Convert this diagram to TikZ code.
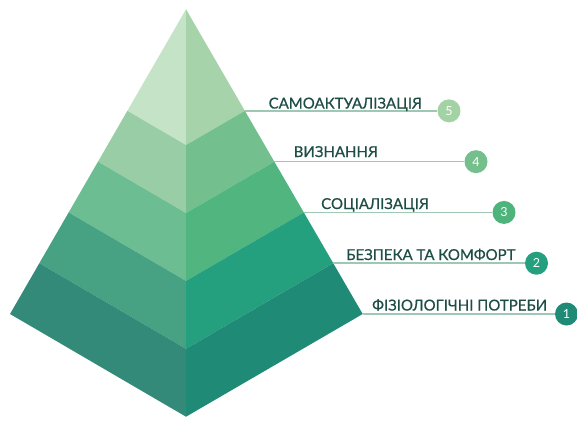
\documentclass[tikz,border=0pt]{standalone}
\usepackage{fontspec}
\setmainfont{Lato}
\newfontfamily\lblfont[FakeBold=0.6]{Lato}
\usetikzlibrary{calc}
\definecolor{txt}{HTML}{1D4D45}
\definecolor{ln}{HTML}{9EC8B4}
\definecolor{Lf5}{HTML}{C5E3C6}\definecolor{Rf5}{HTML}{A6D3A9}
\definecolor{Lf4}{HTML}{98CDA5}\definecolor{Rf4}{HTML}{74BF8E}
\definecolor{Lf3}{HTML}{6DBD93}\definecolor{Rf3}{HTML}{50B57F}
\definecolor{Lf2}{HTML}{46A283}\definecolor{Rf2}{HTML}{25A07E}
\definecolor{Lf1}{HTML}{348A78}\definecolor{Rf1}{HTML}{1F8A76}
\definecolor{C5}{HTML}{A3D2A5}\definecolor{C4}{HTML}{74BF8C}
\definecolor{C3}{HTML}{4FB47C}\definecolor{C2}{HTML}{25A07E}
\definecolor{C1}{HTML}{1F8A76}
\tikzset{
  num/.style={circle, minimum size=23pt, inner sep=0pt, text=white, font=\fontsize{12.5}{12.5}\selectfont},
  lbl/.style={anchor=base west, inner sep=0pt, text=txt, font=\lblfont\fontsize{15}{15}\selectfont},
  conn/.style={draw=ln, line width=1.5pt}
}
\begin{document}
\begin{tikzpicture}[x=1pt,y=-1pt]
\useasboundingbox (0,0) rectangle (577,420);
\coordinate (A) at (186,9.3);
\coordinate (L) at (10,314);
\coordinate (R) at (362.7,314);
\coordinate (B) at (186,416.7);
\foreach \n/\f in {a/0.3333,b/0.5,c/0.6667,d/0.8333,e/1}{
  \coordinate (L\n) at ($(A)!\f!(L)$);
  \coordinate (R\n) at ($(A)!\f!(R)$);
  \coordinate (B\n) at ($(A)!\f!(B)$);
}
\fill[Lf5] (A) -- (La) -- (Ba) -- cycle;
\fill[Rf5] (A) -- (Ra) -- (Ba) -- cycle;
\fill[Lf4] (La) -- (Lb) -- (Bb) -- (Ba) -- cycle;
\fill[Rf4] (Ra) -- (Rb) -- (Bb) -- (Ba) -- cycle;
\fill[Lf3] (Lb) -- (Lc) -- (Bc) -- (Bb) -- cycle;
\fill[Rf3] (Rb) -- (Rc) -- (Bc) -- (Bb) -- cycle;
\fill[Lf2] (Lc) -- (Ld) -- (Bd) -- (Bc) -- cycle;
\fill[Rf2] (Rc) -- (Rd) -- (Bd) -- (Bc) -- cycle;
\fill[Lf1] (Ld) -- (Le) -- (Be) -- (Bd) -- cycle;
\fill[Rf1] (Rd) -- (Re) -- (Be) -- (Bd) -- cycle;
% circle columns
\coordinate (x5) at (449,0);
\coordinate (x4) at (476,0);
\coordinate (x3) at (504,0);
\coordinate (x2) at (536.5,0);
\coordinate (x1) at (566.5,0);
\node[num, fill=C5] (n5) at (Ra -| x5) {5};
\node[num, fill=C4] (n4) at (Rb -| x4) {4};
\node[num, fill=C3] (n3) at (Rc -| x3) {3};
\node[num, fill=C2] (n2) at (Rd -| x2) {2};
\node[num, fill=C1] (n1) at (Re -| x1) {1};
\draw[conn] (Ra) -- (n5.west);
\draw[conn] (Rb) -- (n4.west);
\draw[conn] (Rc) -- (n3.west);
\draw[conn] (Rd) -- (n2.west);
\draw[conn] (Re) -- (n1.west);
\node[lbl] (t5) at (268.5,108.5) {САМОАКТУАЛІЗАЦІЯ};
\node[lbl] (t4) at (293.5,157) {ВИЗНАННЯ};
\node[lbl] (t3) at (321,209) {СОЦІАЛІЗАЦІЯ};
\node[lbl] (t2) at (346,260) {БЕЗПЕКА ТА КОМФОРТ};
\node[lbl] (t1) at (372,310.5) {ФІЗІОЛОГІЧНІ ПОТРЕБИ};
\end{tikzpicture}
\end{document}
